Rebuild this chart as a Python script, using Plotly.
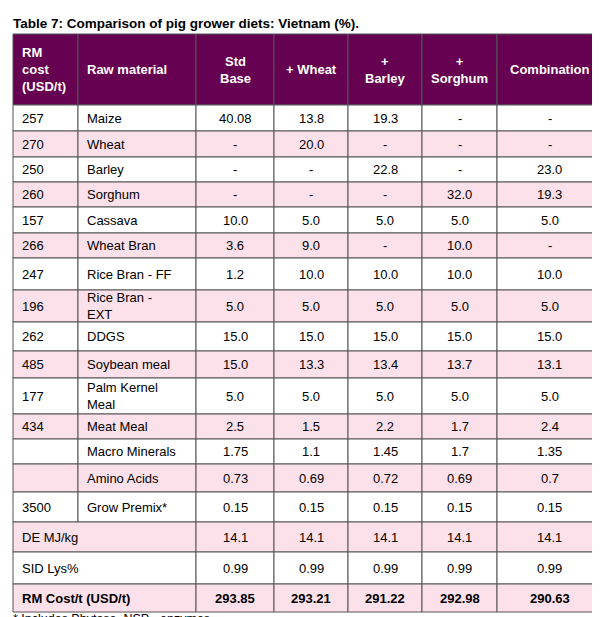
import plotly.graph_objects as go

title = "Table 7: Comparison of pig grower diets: Vietnam (%)."
footnote = "* Includes Phytase, NSP - enzymes"
headers = ["RM<br>cost<br>(USD/t)", "Raw material", "Std<br>Base", "+ Wheat", "+<br>Barley", "+<br>Sorghum", "Combination"]
rm_cost = ["257", "270", "250", "260", "157", "266", "247", "196", "262", "485", "177", "434", "", "", "3500"]
raw_material = ["Maize", "Wheat", "Barley", "Sorghum", "Cassava", "Wheat Bran", "Rice Bran - FF",
                "Rice Bran -<br>EXT", "DDGS", "Soybean meal", "Palm Kernel<br>Meal", "Meat Meal",
                "Macro Minerals", "Amino Acids", "Grow Premix*"]
std_base = ["40.08", "-", "-", "-", "10.0", "3.6", "1.2", "5.0", "15.0", "15.0", "5.0", "2.5", "1.75", "0.73", "0.15"]
plus_wheat = ["13.8", "20.0", "-", "-", "5.0", "9.0", "10.0", "5.0", "15.0", "13.3", "5.0", "1.5", "1.1", "0.69", "0.15"]
plus_barley = ["19.3", "-", "22.8", "-", "5.0", "-", "10.0", "5.0", "15.0", "13.4", "5.0", "2.2", "1.45", "0.72", "0.15"]
plus_sorghum = ["-", "-", "-", "32.0", "5.0", "10.0", "10.0", "5.0", "15.0", "13.7", "5.0", "1.7", "1.7", "0.69", "0.15"]
combination = ["-", "-", "23.0", "19.3", "5.0", "-", "10.0", "5.0", "15.0", "13.1", "5.0", "2.4", "1.35", "0.7", "0.15"]
summary_labels = ["DE MJ/kg", "SID Lys%", "RM Cost/t (USD/t)"]
summary_values = [["14.1"] * 5, ["0.99"] * 5, ["293.85", "293.21", "291.22", "292.98", "290.63"]]

# layout geometry (pixels)
col_x = [5, 70, 188, 266, 340, 414, 489, 594]
row_y = [22, 93, 119, 145, 170, 195, 221, 246, 278, 310, 339, 366, 402, 427, 452, 480, 510, 540, 572, 600]
PURPLE = "#660050"
PINK = "#fde1ea"
LINE = "#555555"
FONT = "Liberation Sans, Arial, sans-serif"

fig = go.Figure()
shapes, ann = [], []

def cell(x0, x1, y0, y1, fill):
    shapes.append(dict(type="rect", xref="x", yref="y", x0=x0, x1=x1, y0=y0, y1=y1,
                       fillcolor=fill, line=dict(color=LINE, width=1), layer="below"))

def text(t, x0, x1, y0, y1, align, color="black", bold=False):
    if bold:
        t = "<b>" + t + "</b>"
    x = x0 + 7 if align == "left" else (x0 + x1) / 2
    ann.append(dict(x=x, y=(y0 + y1) / 2, xref="x", yref="y", text=t, showarrow=False,
                    xanchor="left" if align == "left" else "center", yanchor="middle",
                    align=align, font=dict(family=FONT, size=13, color=color)))

# header
for i, h in enumerate(headers):
    cell(col_x[i], col_x[i + 1], row_y[0], row_y[1], PURPLE)
    text(h, col_x[i], col_x[i + 1], row_y[0], row_y[1], "left" if i < 2 else "center", "white", True)

cols = [std_base, plus_wheat, plus_barley, plus_sorghum, combination]
for r in range(len(raw_material)):
    y0, y1 = row_y[r + 1], row_y[r + 2]
    fill = PINK if r % 2 == 1 else "white"
    vals = [rm_cost[r], raw_material[r]] + [c[r] for c in cols]
    for i, v in enumerate(vals):
        cell(col_x[i], col_x[i + 1], y0, y1, fill)
        text(v, col_x[i], col_x[i + 1], y0, y1, "left" if i < 2 else "center")

n = len(raw_material)
for k, lab in enumerate(summary_labels):
    r = n + k
    y0, y1 = row_y[r + 1], row_y[r + 2]
    fill = PINK if r % 2 == 1 else "white"
    bold = k == len(summary_labels) - 1
    cell(col_x[0], col_x[2], y0, y1, fill)
    text(lab, col_x[0], col_x[2], y0, y1, "left", bold=bold)
    for i, v in enumerate(summary_values[k]):
        cell(col_x[i + 2], col_x[i + 3], y0, y1, fill)
        text(v, col_x[i + 2], col_x[i + 3], y0, y1, "center", bold=bold)

ann.append(dict(x=3, y=11, xref="x", yref="y", text="<b>" + title + "</b>", showarrow=False,
                xanchor="left", yanchor="middle", font=dict(family=FONT, size=13.5, color="black")))
ann.append(dict(x=3, y=607, xref="x", yref="y", text=footnote, showarrow=False,
                xanchor="left", yanchor="middle", font=dict(family=FONT, size=12.5, color="black")))

fig.update_layout(width=600, height=617, margin=dict(l=0, r=0, t=0, b=0),
                  paper_bgcolor="white", plot_bgcolor="white", shapes=shapes, annotations=ann,
                  xaxis=dict(range=[0, 600], visible=False, fixedrange=True),
                  yaxis=dict(range=[613, -4], visible=False, fixedrange=True),
                  showlegend=False)
fig.write_html("out.html")
